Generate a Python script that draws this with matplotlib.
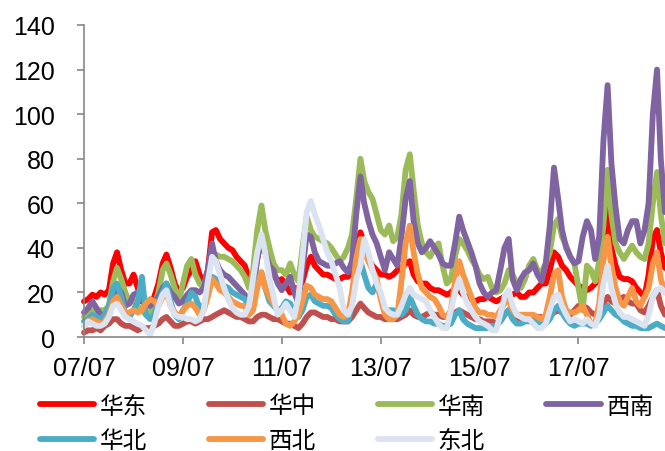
import matplotlib
matplotlib.use("Agg")
import matplotlib.pyplot as plt
import matplotlib.dates as mdates
import pandas as pd

plt.rcParams["font.family"] = ["Liberation Sans", "Noto Sans CJK SC", "DejaVu Sans"]

# monthly readings, 2007-07 .. 2019-04
dates = pd.date_range("2007-07-01", periods=142, freq="MS")

huadong = [16, 17, 19, 18, 20, 19, 21, 33, 38, 30, 24, 24,
           28, 22, 16, 15, 15, 18, 24, 33, 37, 31, 24, 20,
           22, 27, 30, 34, 28, 24, 30, 47, 48, 44, 42, 40,
           39, 36, 34, 32, 26, 25, 35, 44, 40, 30, 28, 25,
           26, 23, 20, 22, 22, 25, 32, 36, 32, 30, 28, 28,
           27, 26, 26, 27, 27, 30, 40, 47, 42, 35, 32, 30,
           28, 28, 27, 28, 30, 31, 33, 34, 28, 25, 24, 24,
           22, 21, 21, 20, 19, 20, 22, 21, 19, 18, 17, 16,
           17, 17, 18, 17, 16, 17, 18, 19, 19, 20, 18, 18,
           20, 20, 22, 24, 24, 30, 38, 36, 32, 30, 27, 25,
           23, 22, 21, 22, 24, 26, 35, 58, 40, 32, 27, 26,
           26, 25, 22, 20, 18, 28, 44, 48, 38, 31]

huazhong = [2, 3, 3, 4, 3, 5, 6, 8, 8, 6, 5, 5,
            4, 3, 4, 4, 4, 5, 6, 8, 9, 7, 5, 5,
            6, 7, 7, 6, 7, 8, 8, 9, 10, 11, 12, 11,
            10, 9, 9, 8, 7, 7, 9, 10, 10, 9, 8, 8,
            7, 6, 6, 5, 4, 6, 9, 11, 11, 10, 9, 9,
            8, 8, 7, 7, 7, 9, 12, 15, 13, 11, 10, 9,
            9, 8, 8, 8, 8, 9, 10, 12, 10, 9, 9, 10,
            11, 10, 10, 9, 9, 10, 11, 12, 11, 10, 9, 8,
            8, 7, 7, 7, 6, 7, 10, 12, 9, 8, 8, 8,
            8, 9, 9, 9, 9, 10, 11, 12, 11, 10, 10, 12,
            14, 14, 13, 11, 10, 12, 15, 18, 16, 15, 17, 18,
            16, 15, 15, 12, 11, 14, 18, 21, 14, 10]

huanan = [9, 10, 12, 10, 12, 12, 14, 25, 31, 26, 20, 16,
          16, 14, 12, 10, 11, 14, 20, 30, 33, 28, 22, 16,
          24, 32, 35, 28, 24, 22, 30, 36, 37, 36, 36, 35,
          34, 32, 30, 27, 22, 30, 48, 59, 48, 40, 33, 30,
          30, 28, 33, 28, 25, 40, 54, 48, 45, 44, 43, 42,
          40, 37, 34, 36, 40, 46, 62, 80, 70, 65, 62, 55,
          48, 46, 50, 43, 45, 55, 75, 82, 66, 50, 42, 38,
          36, 40, 42, 32, 24, 26, 36, 44, 42, 39, 35, 32,
          28, 26, 27, 22, 20, 21, 24, 30, 28, 24, 22, 26,
          32, 35, 30, 29, 33, 38, 50, 53, 45, 41, 36, 33,
          22, 12, 32, 30, 25, 34, 50, 75, 55, 42, 38, 35,
          38, 41, 38, 36, 35, 42, 60, 74, 55, 42]

xinan = [11, 13, 16, 13, 10, 10, 12, 18, 22, 20, 14, 15,
         19, 20, 17, 14, 14, 16, 18, 22, 24, 20, 18, 15,
         16, 19, 21, 21, 20, 22, 30, 42, 34, 30, 28, 27,
         25, 23, 21, 19, 15, 20, 35, 45, 38, 32, 30, 24,
         21, 24, 27, 20, 15, 30, 46, 45, 38, 34, 33, 32,
         32, 33, 34, 31, 29, 34, 55, 72, 60, 52, 46, 42,
         36, 30, 38, 35, 32, 45, 62, 70, 52, 42, 38, 40,
         43, 40, 37, 33, 32, 32, 42, 54, 48, 43, 38, 32,
         24, 20, 18, 20, 21, 30, 40, 44, 26, 21, 26, 29,
         30, 33, 28, 25, 33, 50, 76, 62, 48, 40, 36, 33,
         34, 45, 52, 48, 35, 45, 88, 113, 78, 58, 44, 42,
         48, 52, 52, 42, 48, 60, 100, 120, 80, 56]

huabei = [7, 8, 10, 9, 8, 10, 14, 22, 24, 18, 10, 9,
          12, 16, 27, 10, 8, 10, 16, 20, 24, 16, 10, 8,
          12, 15, 20, 18, 13, 14, 20, 27, 26, 24, 23, 22,
          20, 19, 18, 17, 14, 16, 24, 29, 22, 16, 14, 12,
          13, 16, 15, 11, 9, 12, 18, 19, 16, 15, 14, 14,
          13, 10, 8, 7, 7, 15, 28, 34, 28, 22, 20, 24,
          18, 11, 12, 12, 11, 10, 12, 18, 14, 10, 8, 7,
          7, 6, 6, 5, 5, 6, 10, 12, 8, 6, 5, 4,
          4, 4, 4, 5, 5, 7, 10, 12, 8, 6, 6, 7,
          7, 7, 7, 6, 6, 8, 12, 14, 11, 8, 6, 5,
          6, 6, 6, 5, 6, 8, 11, 14, 12, 10, 9, 7,
          6, 5, 5, 4, 4, 4, 5, 6, 5, 4]

xibei = [5, 7, 8, 7, 6, 7, 10, 16, 18, 14, 11, 11,
         12, 11, 12, 15, 17, 16, 14, 18, 20, 14, 11, 9,
         12, 14, 15, 13, 10, 12, 18, 26, 24, 21, 20, 18,
         16, 15, 14, 14, 10, 12, 22, 29, 22, 18, 15, 12,
         10, 6, 5, 7, 10, 16, 23, 22, 19, 18, 17, 17,
         16, 13, 10, 9, 10, 20, 35, 44, 38, 34, 30, 26,
         17, 10, 8, 8, 10, 25, 42, 50, 38, 28, 22, 20,
         18, 17, 14, 10, 9, 12, 25, 34, 28, 23, 18, 13,
         11, 11, 10, 10, 9, 12, 15, 17, 12, 10, 10, 10,
         10, 10, 9, 8, 10, 18, 28, 30, 18, 12, 11, 11,
         12, 14, 10, 6, 6, 15, 35, 45, 32, 22, 16, 14,
         18, 22, 16, 14, 18, 22, 33, 38, 26, 20]

dongbei = [5, 7, 6, 5, 5, 6, 9, 14, 15, 12, 9, 8,
           7, 6, 5, 3, 1, 6, 14, 19, 21, 14, 10, 9,
           9, 8, 8, 7, 8, 12, 25, 36, 34, 28, 22, 17,
           13, 11, 10, 10, 14, 26, 38, 46, 38, 27, 18, 10,
           12, 15, 12, 9, 18, 36, 56, 61, 55, 50, 44, 38,
           34, 28, 22, 12, 10, 14, 26, 32, 44, 38, 30, 24,
           20, 13, 11, 10, 10, 14, 19, 22, 19, 18, 17, 16,
           12, 9, 6, 4, 4, 12, 20, 26, 20, 15, 12, 9,
           7, 6, 5, 3, 3, 10, 18, 21, 14, 10, 9, 8,
           8, 6, 4, 4, 6, 12, 18, 19, 14, 10, 7, 8,
           7, 6, 8, 6, 5, 10, 24, 32, 22, 15, 11, 9,
           9, 8, 7, 6, 5, 10, 18, 21, 22, 20]

series = [
    ("华东", huadong, "#FF0000"),
    ("华中", huazhong, "#C0504D"),
    ("华南", huanan, "#9BBB59"),
    ("西南", xinan, "#8064A2"),
    ("华北", huabei, "#4BACC6"),
    ("西北", xibei, "#F79646"),
    ("东北", dongbei, "#DCE3F0"),
]

fig = plt.figure(figsize=(6.65, 4.52), dpi=100)
ax = fig.add_axes([0.1263, 0.2522, 0.8737, 0.6903])

lines = {}
for name, vals, col in series:
    ln, = ax.plot(dates, vals, color=col, lw=4.2, label=name, clip_on=False,
                  solid_joinstyle="round", solid_capstyle="round")
    lines[name] = ln

ax.set_ylim(0, 140)
ax.set_yticks(range(0, 141, 20))
ax.set_xlim(dates[0], dates[-1])
ax.set_xticks(pd.date_range("2007-07-01", "2017-07-01", freq="24MS"))
ax.xaxis.set_major_formatter(mdates.DateFormatter("%y/%m"))

for s in ["top", "right"]:
    ax.spines[s].set_visible(False)
for s in ["left", "bottom"]:
    ax.spines[s].set_color("#888888")
    ax.spines[s].set_linewidth(1.2)
ax.tick_params(axis="both", colors="#888888", labelcolor="black",
               labelsize=18, length=5, width=1.2)
ax.tick_params(axis="y", pad=16)
ax.tick_params(axis="x", pad=9)

# legend fills columns first, so reorder to get rows like the reference
order = ["华东", "华北", "华中", "西北", "华南", "东北", "西南"]
fig.legend([lines[n] for n in order], order, ncol=4, loc="upper left",
           bbox_to_anchor=(0.06, 0.125), frameon=False,
           prop={"family": ["Noto Sans CJK SC"], "size": 17},
           handlelength=2.3, handletextpad=0.25, columnspacing=2.6,
           labelspacing=0.5, borderpad=0, borderaxespad=0)

fig.savefig("out.png", dpi=100)
